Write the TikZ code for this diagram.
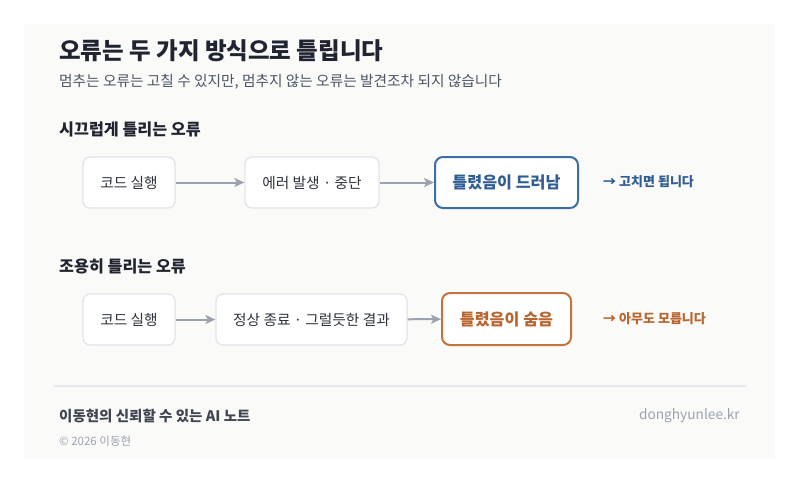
\documentclass[tikz,border=0pt]{standalone}
\usepackage{fontspec}
\setmainfont{Noto Sans CJK KR}
\usetikzlibrary{arrows.meta}
\definecolor{panel}{HTML}{FAFAF9}
\definecolor{titlec}{HTML}{1F2430}
\definecolor{subc}{HTML}{4B5563}
\definecolor{boxt}{HTML}{2E333B}
\definecolor{boxb}{HTML}{E1E4E8}
\definecolor{arrc}{HTML}{9CA2AD}
\definecolor{blueb}{HTML}{3A6EA5}
\definecolor{bluet}{HTML}{2F5D94}
\definecolor{orb}{HTML}{C4743A}
\definecolor{ort}{HTML}{B8652F}
\definecolor{sepc}{HTML}{E5E7EB}
\definecolor{footc}{HTML}{3F4652}
\definecolor{urlc}{HTML}{9CA3AF}
\tikzset{
  stepbox/.style={draw=boxb, line width=1.3pt, fill=white, rounded corners=7pt, font=\fontsize{14.7}{17}\selectfont, text=boxt},
  hotbox/.style={fill=white, rounded corners=8pt, line width=2pt, font=\fontsize{16.2}{19}\selectfont\bfseries},
  flow/.style={draw=arrc, line width=2pt, -{Stealth[length=10pt,width=9pt,inset=2.5pt]}},
  lefttext/.style={anchor=west, inner sep=0pt},
}
\begin{document}
\begin{tikzpicture}[x=1pt,y=-1pt]
\useasboundingbox (0,0) rectangle (800,483);
\fill[white] (0,0) rectangle (800,483);
\fill[panel] (24,24) rectangle (775,459);

\node[lefttext, text=titlec, font=\fontsize{23.5}{27}\selectfont\bfseries] (title) at (59,51) {오류는 두 가지 방식으로 틀립니다};
\node[lefttext, text=subc, font=\fontsize{14.7}{17}\selectfont] (sub) at (59,82) {멈추는 오류는 고칠 수 있지만, 멈추지 않는 오류는 발견조차 되지 않습니다};

\node[lefttext, text=titlec, font=\fontsize{16.2}{19}\selectfont\bfseries] (h1) at (59,129) {시끄럽게 틀리는 오류};
\node[stepbox, minimum width=92pt, minimum height=51pt] (a1) at (129,182.5) {코드 실행};
\node[stepbox, minimum width=134pt, minimum height=51pt] (a2) at (312,182.5) {에러 발생 · 중단};
\node[hotbox, draw=blueb, text=bluet, minimum width=143pt, minimum height=51pt] (a3) at (506.5,182.5) {틀렸음이 드러남};
\node[lefttext, text=bluet, font=\fontsize{13}{15}\selectfont\bfseries] (r1) at (603,182) {→ 고치면 됩니다};
\draw[flow] (a1) -- (a2);
\draw[flow] (a2) -- (a3);

\node[lefttext, text=titlec, font=\fontsize{16.2}{19}\selectfont\bfseries] (h2) at (59,266) {조용히 틀리는 오류};
\node[stepbox, minimum width=92pt, minimum height=51pt] (b1) at (129,319.5) {코드 실행};
\node[stepbox, minimum width=191pt, minimum height=51pt] (b2) at (311.5,319.5) {정상 종료 · 그럴듯한 결과};
\node[hotbox, draw=orb, text=ort, minimum width=129pt, minimum height=52pt] (b3) at (506.5,319) {틀렸음이 숨음};
\node[lefttext, text=ort, font=\fontsize{13}{15}\selectfont\bfseries] (r2) at (603,319) {→ 아무도 모릅니다};
\draw[flow] (b1) -- (b2);
\draw[flow] (b2) -- (b3);

\coordinate (s1) at (54,386);
\coordinate (s2) at (746,386);
\draw[sepc, line width=1.2pt] (s1) -- (s2);

\node[lefttext, text=footc, font=\fontsize{14.5}{17}\selectfont\bfseries] (f1) at (59,416) {이동현의 신뢰할 수 있는 AI 노트};
\node[anchor=east, inner sep=0pt, text=urlc, font=\fontsize{13.7}{16}\selectfont] (f2) at (740,416) {donghyunlee.kr};
\node[lefttext, text=urlc, font=\fontsize{11.5}{13}\selectfont] (f3) at (59,441) {© 2026 이동현};
\end{tikzpicture}
\end{document}
